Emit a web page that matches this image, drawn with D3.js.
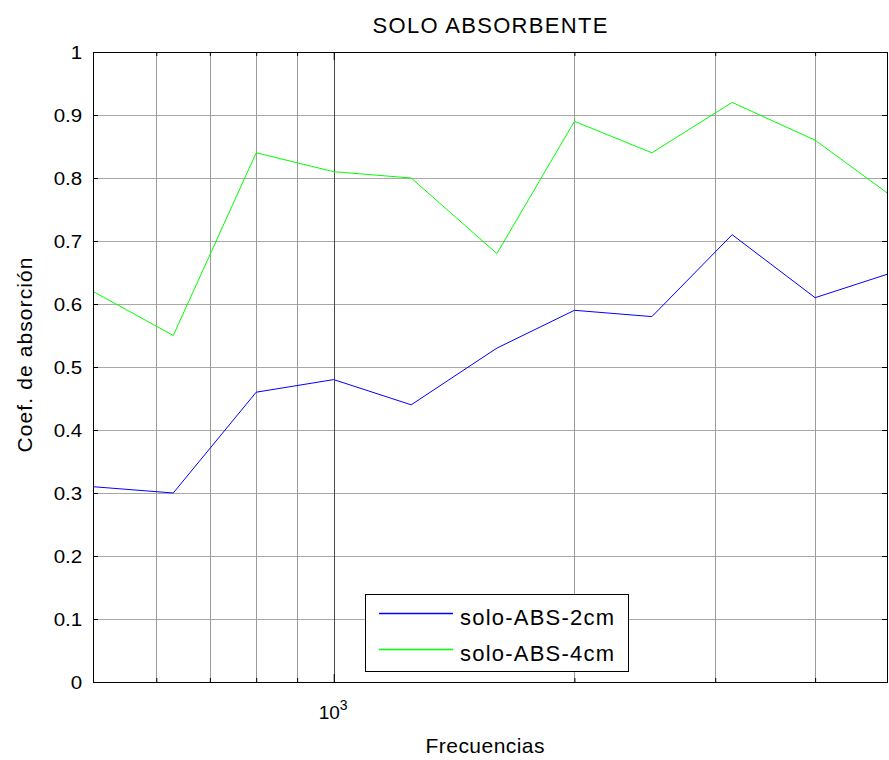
<!DOCTYPE html>
<html>
<head>
<meta charset="utf-8">
<script src="https://cdn.jsdelivr.net/npm/d3@7"></script>
<style>
  body { margin: 0; background: #fff; }
  text { font-family: Arial, "Liberation Sans", sans-serif; fill: #000; }
</style>
</head>
<body>
<div id="chart"></div>
<script>
// Frequency bands (Hz) and absorption coefficients
var frequencies = [500, 630, 800, 1000, 1250, 1600, 2000, 2500, 3150, 4000, 5000];
var abs2cm = [0.31, 0.30, 0.46, 0.48, 0.44, 0.53, 0.59, 0.58, 0.71, 0.61, 0.65];
var abs4cm = [0.62, 0.55, 0.84, 0.81, 0.80, 0.68, 0.89, 0.84, 0.92, 0.86, 0.77];
var seriesNames = ["solo-ABS-2cm", "solo-ABS-4cm"];
var yTicks = [0, 0.1, 0.2, 0.3, 0.4, 0.5, 0.6, 0.7, 0.8, 0.9, 1];
var xMinorTicks = [600, 700, 800, 900, 2000, 3000, 4000];
var xMajorTicks = [1000];

var svgWidth = 889;
var svgHeight = 760;

// Plot area
var margin = { top: 52, right: 2, bottom: 78, left: 93 };
var plotW = svgWidth - margin.left - margin.right;
var plotH = svgHeight - margin.top - margin.bottom;

var svg = d3.select("#chart")
    .append("svg")
    .attr("width", svgWidth)
    .attr("height", svgHeight);

var x = d3.scaleLog()
    .domain([500, 4920])
    .range([0, plotW]);

var y = d3.scaleLinear()
    .domain([0, 1])
    .range([plotH, 0]);

var g = svg.append("g")
    .attr("transform", `translate(${margin.left},${margin.top})`);

g.append("clipPath").attr("id", "clip")
    .append("rect").attr("width", plotW).attr("height", plotH);

// Grid lines
g.selectAll(".ygrid").data(yTicks.slice(1, -1)).enter()
    .append("line")
    .attr("x1", 0).attr("x2", plotW)
    .attr("y1", d => y(d) + 0.5).attr("y2", d => y(d) + 0.5)
    .attr("stroke", "#a8a8a8");

g.selectAll(".xgrid").data(xMinorTicks).enter()
    .append("line")
    .attr("x1", d => Math.round(x(d)) + 0.5).attr("x2", d => Math.round(x(d)) + 0.5)
    .attr("y1", 0).attr("y2", plotH)
    .attr("stroke", "#9a9a9a");

g.selectAll(".xgridmajor").data(xMajorTicks).enter()
    .append("line")
    .attr("x1", d => Math.round(x(d)) + 0.5).attr("x2", d => Math.round(x(d)) + 0.5)
    .attr("y1", 0).attr("y2", plotH)
    .attr("stroke", "#4a4a4a");

// Lines
var line = d3.line()
    .x((d, i) => x(frequencies[i]))
    .y(d => y(d));

var lines = g.append("g").attr("clip-path", "url(#clip)");
lines.append("path").datum(abs2cm)
    .attr("d", line).attr("fill", "none").attr("stroke", "#0000ff").attr("stroke-width", 1);
lines.append("path").datum(abs4cm)
    .attr("d", line).attr("fill", "none").attr("stroke", "#00ff00").attr("stroke-width", 1);

// Axes (box style, ticks inside)
var leftAxis = d3.axisLeft(y).tickValues(yTicks).tickSize(-5).tickPadding(10)
    .tickFormat(d3.format("~g"));
var rightAxis = d3.axisRight(y).tickValues(yTicks).tickSize(-5).tickFormat("");
var bottomMinor = d3.axisBottom(x).tickValues(xMinorTicks).tickSize(-4).tickFormat("");
var topMinor = d3.axisTop(x).tickValues(xMinorTicks).tickSize(-4).tickFormat("");
var bottomMajor = d3.axisBottom(x).tickValues(xMajorTicks).tickSize(-8).tickFormat("");
var topMajor = d3.axisTop(x).tickValues(xMajorTicks).tickSize(-8).tickFormat("");

function styleAxis(sel) {
    sel.selectAll("path.domain").attr("stroke", "#000");
    sel.selectAll(".tick line").attr("stroke", "#000");
}

var yl = g.append("g").call(leftAxis).call(styleAxis);
yl.selectAll(".tick text").attr("font-size", "19px").attr("fill", "#000")
    .attr("font-family", "Arial, 'Liberation Sans', sans-serif")
    .attr("transform", "scale(1.08,1)");
g.append("g").attr("transform", `translate(${plotW},0)`).call(rightAxis).call(styleAxis);
g.append("g").attr("transform", `translate(0,${plotH})`).call(bottomMinor).call(styleAxis);
g.append("g").call(topMinor).call(styleAxis);
g.append("g").attr("transform", `translate(0,${plotH})`).call(bottomMajor).call(styleAxis);
g.append("g").call(topMajor).call(styleAxis);

// 10^3 label
var lab = g.append("text")
    .attr("x", x(1000) - 15).attr("y", plotH + 37)
    .attr("font-size", "19px");
lab.append("tspan").text("10");
lab.append("tspan").attr("font-size", "14px").attr("dy", -9).text("3");

// Title and axis labels
svg.append("text")
    .attr("x", margin.left + plotW / 2).attr("y", 33)
    .attr("text-anchor", "middle")
    .attr("font-size", "22px")
    .attr("textLength", 235)
    .text("SOLO ABSORBENTE");

svg.append("text")
    .attr("x", 485).attr("y", 753)
    .attr("text-anchor", "middle")
    .attr("font-size", "21px")
    .attr("textLength", 119)
    .text("Frecuencias");

svg.append("text")
    .attr("transform", "translate(32,355) rotate(-90)")
    .attr("text-anchor", "middle")
    .attr("font-size", "21px")
    .attr("textLength", 195)
    .text("Coef. de absorción");

// Legend
var legend = svg.append("g").attr("transform", "translate(365,594)");
legend.append("rect")
    .attr("x", 0.5).attr("y", 0.5)
    .attr("width", 263).attr("height", 77)
    .attr("fill", "#fff").attr("stroke", "#000");
var legendColors = ["#0000ff", "#00ff00"];
seriesNames.forEach(function(name, i) {
    var ly = 19 + i * 36;
    legend.append("line")
        .attr("x1", 14).attr("x2", 88)
        .attr("y1", ly + 0.5).attr("y2", ly + 0.5)
        .attr("stroke", legendColors[i])
        .attr("stroke-width", 1.3);
    legend.append("text")
        .attr("x", 95).attr("y", ly + 12)
        .attr("font-size", "22px")
        .attr("textLength", 154)
        .text(name);
});
</script>
</body>
</html>
